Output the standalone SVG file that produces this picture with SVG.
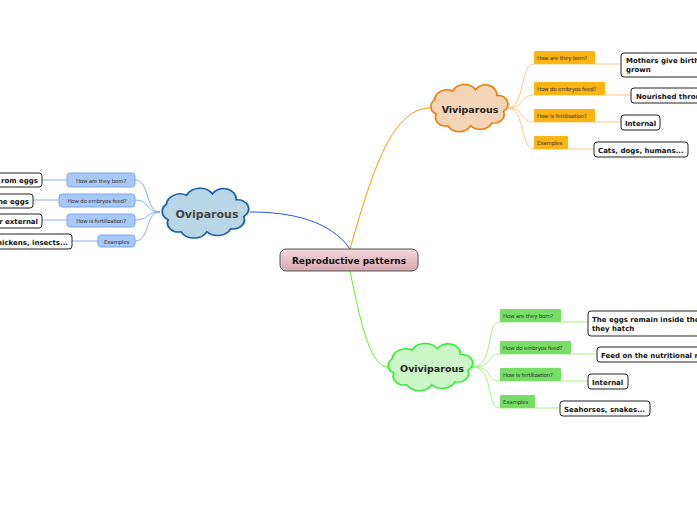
<svg xmlns="http://www.w3.org/2000/svg" width="697" height="520" viewBox="0 0 697 520">
<style>
text{font-family:"DejaVu Sans","Liberation Sans",sans-serif}
.lb{font-size:5.5px;fill:#333;letter-spacing:-0.2px}
.an{font-size:7px;font-weight:bold;fill:#111}
.ab{fill:#fff;stroke:#222;stroke-width:1}
.cl{stroke-width:2;vector-effect:non-scaling-stroke}
.c{fill:none;stroke-width:1}
</style>
<defs>
<path id="cloud" d="M-40,10 a12,12 0 0 1 -2,-20 a15,15 0 0 1 22,-12 a16,16 0 0 1 28,-2 a14,14 0 0 1 26,8 a12,12 0 0 1 8,22 a12,12 0 0 1 -14,16 a16,16 0 0 1 -26,4 a16,16 0 0 1 -28,0 a12,12 0 0 1 -14,-16 z"/>
<linearGradient id="cg" x1="0" y1="0" x2="0" y2="1"><stop offset="0" stop-color="#f0d8dc"/><stop offset="1" stop-color="#d8a8b0"/></linearGradient>
</defs>
<g id="connectors">
<path class="c" stroke="#2255ee" stroke-width="1.2" d="M350,249 C330,220 290,212 250,212"/>
<path class="c" stroke="#ff9900" stroke-width="1.2" d="M350,249 C370,180 390,108 430,108"/>
<path class="c" stroke="#66ee22" stroke-width="1.2" d="M350,271 C360,320 370,367 388,367"/>
<g stroke="#88aaee">
<path class="c" d="M160,212 C145,212 150,180 135,180"/>
<path class="c" d="M160,212 C145,212 150,200 135,200"/>
<path class="c" d="M160,212 C145,212 150,220 135,220"/>
<path class="c" d="M160,212 C145,212 150,241 135,241"/>
<path class="c" d="M67,180 H42 M59,200 H33 M67,220 H42 M98,241 H72"/>
</g>
<g stroke="#fcc880">
<path class="c" d="M508,108 C525,108 520,64 534,64 H621"/>
<path class="c" d="M508,108 C525,108 520,95 534,95 H631"/>
<path class="c" d="M508,108 C525,108 520,122 534,122 H621"/>
<path class="c" d="M508,108 C525,108 520,149 534,149 H594"/>
</g>
<g stroke="#aaee88">
<path class="c" d="M472,367 C495,367 485,322 500,322 H588"/>
<path class="c" d="M472,367 C495,367 485,354 500,354 H597"/>
<path class="c" d="M472,367 C495,367 485,381 500,381 H588"/>
<path class="c" d="M472,367 C495,367 485,408 500,408 H560"/>
</g>
</g>
<g id="central"><rect x="280" y="249" width="138" height="22" rx="6" fill="url(#cg)" stroke="#555"/><text x="349" y="263.5" text-anchor="middle" font-size="9" font-weight="bold" fill="#111">Reproductive patterns</text></g>
<g id="oviparous"><use href="#cloud" transform="translate(205,212) scale(0.92,0.76)" fill="#b8d6e6" stroke="#1a5fa8" class="cl"/><text x="207" y="218" text-anchor="middle" font-size="11" font-weight="bold" fill="#444">Oviparous</text></g>
<g id="viviparous"><use href="#cloud" transform="translate(469,107) scale(0.82,0.72)" fill="#f5d5b8" stroke="#f07800" class="cl"/><text x="470" y="113" text-anchor="middle" font-size="9.5" font-weight="bold" fill="#222">Viviparous</text></g>
<g id="oviviparous"><use href="#cloud" transform="translate(430,366) scale(0.9,0.72)" fill="#ccf5c8" stroke="#33ee33" class="cl"/><text x="432" y="372" text-anchor="middle" font-size="9.5" font-weight="bold" fill="#222">Oviviparous</text></g>
<g id="ovi-labels" class="lb">
<g><rect x="67" y="173" width="68" height="14" rx="3" fill="#a8c8f8" stroke="#7aa8f0"/><text x="101" y="182.5" text-anchor="middle">How are they born?</text></g>
<g><rect x="59" y="194" width="76" height="13" rx="3" fill="#a8c8f8" stroke="#7aa8f0"/><text x="97" y="203" text-anchor="middle">How do embryos feed?</text></g>
<g><rect x="67" y="214" width="68" height="13" rx="3" fill="#a8c8f8" stroke="#7aa8f0"/><text x="101" y="223" text-anchor="middle">How is fertilization?</text></g>
<g><rect x="98" y="235" width="37" height="12" rx="3" fill="#a8c8f8" stroke="#7aa8f0"/><text x="116.5" y="243.5" text-anchor="middle">Examples</text></g>
</g>
<g id="ovi-answers">
<g><rect class="ab" x="-6" y="173" width="48" height="14" rx="3"/><text class="an" x="38" y="183" text-anchor="end">rom eggs</text></g>
<g><rect class="ab" x="-6" y="194" width="39" height="14" rx="3"/><text class="an" x="29" y="204" text-anchor="end">he eggs</text></g>
<g><rect class="ab" x="-6" y="214" width="48" height="14" rx="3"/><text class="an" x="38" y="224" text-anchor="end">r external</text></g>
<g><rect class="ab" x="-6" y="234" width="78" height="15" rx="3"/><text class="an" x="68" y="244.5" text-anchor="end">hickens, insects...</text></g>
</g>
<g id="vivi-labels" class="lb">
<g><rect x="534" y="51" width="61" height="13" rx="1" fill="#fcb515"/><text x="537" y="60">How are they born?</text></g>
<g><rect x="534" y="82" width="71" height="13" rx="1" fill="#fcb515"/><text x="537" y="91">How do embryos feed?</text></g>
<g><rect x="534" y="109" width="61" height="13" rx="1" fill="#fcb515"/><text x="537" y="118">How is fertilization?</text></g>
<g><rect x="534" y="136" width="34" height="13" rx="1" fill="#fcb515"/><text x="537" y="145">Examples</text></g>
</g>
<g id="vivi-answers">
<g><rect class="ab" x="621" y="53" width="90" height="24" rx="3"/><text class="an" x="626" y="63">Mothers give birth</text><text class="an" x="626" y="72">grown</text></g>
<g><rect class="ab" x="631" y="88" width="80" height="15" rx="3"/><text class="an" x="636" y="98.5">Nourished throu</text></g>
<g><rect class="ab" x="621" y="115" width="39" height="15" rx="3"/><text class="an" x="625" y="125.5">Internal</text></g>
<g><rect class="ab" x="594" y="142" width="94" height="15" rx="3"/><text class="an" x="598" y="152.5">Cats, dogs, humans...</text></g>
</g>
<g id="oviv-labels" class="lb">
<g><rect x="500" y="309" width="61" height="13" rx="1" fill="#77dd66"/><text x="503" y="318">How are they born?</text></g>
<g><rect x="500" y="341" width="71" height="13" rx="1" fill="#77dd66"/><text x="503" y="350">How do embryos feed?</text></g>
<g><rect x="500" y="368" width="61" height="13" rx="1" fill="#77dd66"/><text x="503" y="377">How is fertilization?</text></g>
<g><rect x="500" y="395" width="35" height="13" rx="1" fill="#77dd66"/><text x="503" y="404">Examples</text></g>
</g>
<g id="oviv-answers">
<g><rect class="ab" x="588" y="311" width="120" height="25" rx="3"/><text class="an" x="592" y="321.5">The eggs remain inside the</text><text class="an" x="592" y="331">they hatch</text></g>
<g><rect class="ab" x="597" y="347" width="110" height="15" rx="3"/><text class="an" x="601" y="357.5">Feed on the nutritional r</text></g>
<g><rect class="ab" x="588" y="374" width="40" height="15" rx="3"/><text class="an" x="592" y="384.5">Internal</text></g>
<g><rect class="ab" x="560" y="401" width="90" height="15" rx="3"/><text class="an" x="564" y="411.5">Seahorses, snakes...</text></g>
</g>
</svg>
